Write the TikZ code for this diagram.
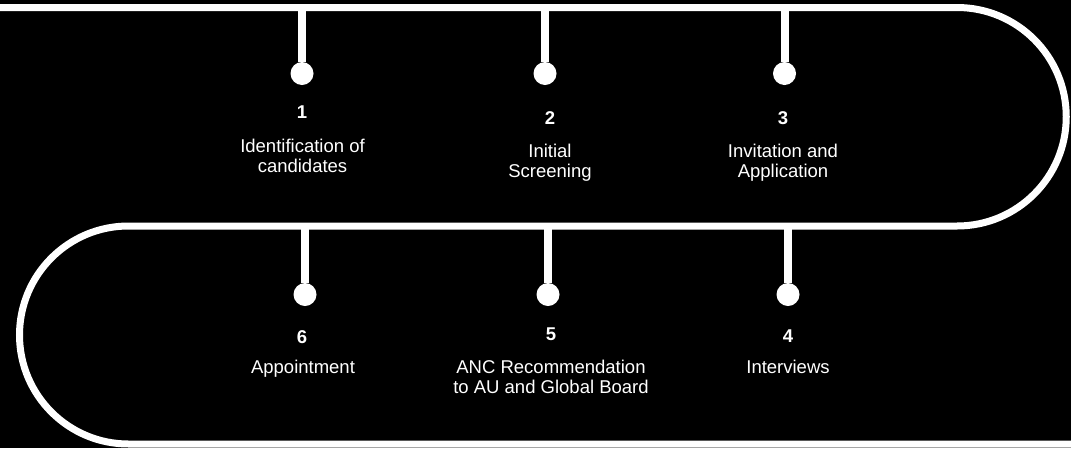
\documentclass[tikz,border=0pt]{standalone}
\usepackage{fontspec}
\setmainfont{Liberation Sans}
\begin{document}
\begin{tikzpicture}[x=1pt,y=-1pt,
  track/.style={white, line width=7pt},
  stem/.style={white, line width=8pt},
  dot/.style={circle, fill=white, minimum size=23pt, inner sep=0pt},
  num/.style={font=\fontsize{18.5}{21}\selectfont\bfseries, text=white, inner sep=0pt, anchor=base},
  desc/.style={font=\fontsize{18.5}{20.5}\selectfont, text=white, align=center, inner sep=0pt, anchor=north}]
\fill[black] (0,0) rectangle (1071,448);
\useasboundingbox (0,0) rectangle (1071,448);
% track
\coordinate (start) at (-10,7.5);
\coordinate (rtop) at (957,7.5);
\coordinate (ltop) at (128.5,226);
\coordinate (fin) at (1085,444);
\draw[track] (start) -- (rtop) arc[start angle=-90, end angle=90, radius=109.25]
  -- (ltop) arc[start angle=-90, end angle=-270, radius=109] -- (fin);
% dots
\node[dot] (c1) at (302,73.5) {};
\node[dot] (c2) at (545,73.5) {};
\node[dot] (c3) at (784.5,73.5) {};
\node[dot] (c6) at (305,294.5) {};
\node[dot] (c5) at (548,294.5) {};
\node[dot] (c4) at (788,294.5) {};
% stem anchors
\coordinate (s1) at (302,7.5);
\coordinate (s2) at (545,7.5);
\coordinate (s3) at (784.5,7.5);
\coordinate (s6) at (305,226);
\coordinate (s5) at (548,226);
\coordinate (s4) at (788,226);
\foreach \i in {1,...,6} \draw[stem] (s\i) -- (c\i);
% labels
\node[num] (n1) at (302,118) {1};
\node[desc] (d1) at (302.5,138.7) {Identification of\\candidates};
\node[num] (n2) at (550,124) {2};
\node[desc] (d2) at (550,143.7) {Initial\\Screening};
\node[num] (n3) at (783,124) {3};
\node[desc] (d3) at (783,143.7) {Invitation and\\Application};
\node[num] (n6) at (302,343) {6};
\node[desc] (d6) at (303,359.7) {Appointment};
\node[num] (n5) at (551,340) {5};
\node[desc] (d5) at (551,359.7) {ANC Recommendation\\to AU and Global Board};
\node[num] (n4) at (788,342) {4};
\node[desc] (d4) at (788,359.7) {Interviews};
\end{tikzpicture}
\end{document}
